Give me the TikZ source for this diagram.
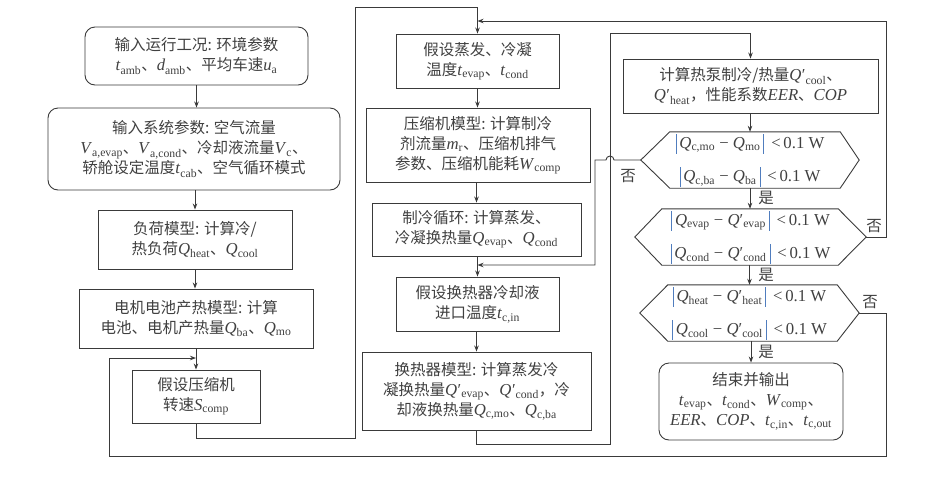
\documentclass[tikz,border=0pt]{standalone}
\usepackage{fontspec}
\setmainfont{Noto Sans CJK SC}
\newfontfamily\tm[Scale=1.08]{Liberation Serif}
\usetikzlibrary{arrows.meta,calc}
\definecolor{lncol}{HTML}{3A3A3A}
\definecolor{txcol}{HTML}{404040}
\definecolor{barc}{RGB}{80,125,190}
\newcommand\vq[2]{{\tm\textit{#1}\textsubscript{#2}}}
\newcommand\vp[2]{{\tm\textit{#1}\kern0.5pt′\textsubscript{#2}}}
\newcommand\ab[1]{\textcolor{barc}{\rule[-5pt]{0.8pt}{20pt}}\kern3pt{\tm#1}\kern3pt\textcolor{barc}{\rule[-5pt]{0.8pt}{20pt}}}
\newcommand\ltw{{\tm\ \,<\,0.1 W}}
\newcommand\mi{\ {\tm −}\ }
\tikzset{
  box/.style={draw=lncol, line width=0.9pt, text=txcol, align=center, inner sep=0pt, font=\fontsize{15.5}{20}\selectfont},
  rbox/.style={box, rounded corners=10pt},
  hexn/.style={draw=none, text=txcol, align=center, inner sep=0pt, font=\fontsize{15.5}{20}\selectfont},
  hexline/.style={draw=lncol, line width=0.9pt},
  conn/.style={draw=lncol, line width=0.9pt},
  arr/.style={conn, -{Stealth[length=6pt,width=4.5pt]}},
  lab/.style={text=txcol, inner sep=0pt, font=\fontsize{15.5}{18}\selectfont}
}
\begin{document}
\begin{tikzpicture}[x=1pt,y=-1pt]
\useasboundingbox (0,0) rectangle (928,480);
% left column
\node[rbox, minimum width=223pt, minimum height=58pt] (b1) at (196.5,56)
  {输入运行工况: 环境参数\\ \vq{t}{amb}、\vq{d}{amb}、平均车速\vq{u}{a}};
\node[rbox, minimum width=292pt, minimum height=82pt] (b2) at (194,149)
  {输入系统参数: 空气流量\\ \vq{V}{a,evap}、\vq{V}{a,cond}、冷却液流量\vq{V}{c}、\\ 轿舱设定温度\vq{t}{cab}、空气循环模式};
\node[box, minimum width=194pt, minimum height=59pt] (b3) at (195,239.5)
  {负荷模型: 计算冷/\\ 热负荷\vq{Q}{heat}、\vq{Q}{cool}};
\node[box, minimum width=234pt, minimum height=59pt] (b4) at (196,318.5)
  {电机电池产热模型: 计算\\ 电池、电机产热量\vq{Q}{ba}、\vq{Q}{mo}};
\node[box, minimum width=128pt, minimum height=53pt] (b5) at (196,396.5)
  {假设压缩机\\ 转速\vq{S}{comp}};
% middle column
\node[box, minimum width=163pt, minimum height=54pt] (b6) at (477.5,61)
  {假设蒸发、冷凝\\ 温度\vq{t}{evap}、\vq{t}{cond}};
\node[box, minimum width=224pt, minimum height=74pt] (b7) at (478,145)
  {压缩机模型: 计算制冷\\ 剂流量\vq{m}{r}、压缩机排气\\ 参数、压缩机能耗\vq{W}{comp}};
\node[box, minimum width=209pt, minimum height=53pt] (b8) at (476.5,229.5)
  {制冷循环: 计算蒸发、\\ 冷凝换热量\vq{Q}{evap}、\vq{Q}{cond}};
\node[box, minimum width=163pt, minimum height=54pt] (b9) at (477.5,304)
  {假设换热器冷却液\\ 进口温度\vq{t}{c,in}};
\node[box, minimum width=229pt, minimum height=78pt] (b10) at (476.5,391)
  {换热器模型: 计算蒸发冷\\ 凝换热量\vp{Q}{evap}、\vp{Q}{cond}，冷\\ 却液换热量\vq{Q}{c,mo}、\vq{Q}{c,ba}};
% right column
\node[box, minimum width=255pt, minimum height=54pt] (b11) at (750.5,86)
  {计算热泵制冷/热量\vp{Q}{cool}、\\ \vp{Q}{heat}，性能系数{\tm\textit{EER}}、{\tm\textit{COP}}};
\node[hexn, minimum width=218pt, minimum height=56pt] (d1) at (750,160)
  {\ab{\textit{Q}\textsubscript{c,mo}\mi\textit{Q}\textsubscript{mo}}\ltw\\[13pt]
   \ab{\textit{Q}\textsubscript{c,ba}\mi\textit{Q}\textsubscript{ba}}\ltw};
\node[hexn, minimum width=231pt, minimum height=56pt] (d2) at (750.5,237)
  {\ab{\textit{Q}\textsubscript{evap}\mi\textit{Q}′\textsubscript{evap}}\ltw\\[13pt]
   \ab{\textit{Q}\textsubscript{cond}\mi\textit{Q}′\textsubscript{cond}}\ltw};
\node[hexn, minimum width=219pt, minimum height=56pt] (d3) at (749.5,313)
  {\ab{\textit{Q}\textsubscript{heat}\mi\textit{Q}′\textsubscript{heat}}\ltw\\[13pt]
   \ab{\textit{Q}\textsubscript{cool}\mi\textit{Q}′\textsubscript{cool}}\ltw};
\foreach \d/\l/\r in {d1/29/19, d2/27/28, d3/28/22}{
  \draw[hexline] (\d.west) -- ([xshift=\l pt]\d.north west) -- ([xshift=-\r pt]\d.north east)
    -- (\d.east) -- ([xshift=-\r pt]\d.south east) -- ([xshift=\l pt]\d.south west) -- cycle;
}
\node[rbox, minimum width=184pt, minimum height=77pt] (b12) at (751,401.5)
  {结束并输出\\ \vq{t}{evap}、\vq{t}{cond}、\vq{W}{comp}、\\ {\tm\textit{EER}}、{\tm\textit{COP}}、\vq{t}{c,in}、\vq{t}{c,out}};
% labels
\node[lab] (n1) at (628,176) {否};
\node[lab] (n2) at (874,226) {否};
\node[lab] (n3) at (870,302) {否};
\node[lab] (y1) at (766,198) {是};
\node[lab] (y2) at (766,275) {是};
\node[lab] (y3) at (766,352) {是};
% coordinates
\coordinate (c1) at (355,438);
\coordinate (c2) at (355,7);
\coordinate (c3) at (610,444);
\coordinate (c4) at (610,33);
\coordinate (c5) at (595,160);
\coordinate (c6) at (595,265);
\coordinate (c7) at (886,21);
\coordinate (c8) at (886,456);
\coordinate (c9) at (109,456);
\coordinate (c10) at (109,358);
\coordinate (h1) at (614,160);
% straight arrows
\draw[arr] (b1.south) -- (b1.south |- b2.north);
\draw[arr] (b2.south -| b3.north) -- (b3.north);
\draw[arr] (b3.south) -- (b3.south |- b4.north);
\draw[arr] (b4.south -| b5.north) -- (b5.north);
\draw[arr] (b6.south) -- (b6.south |- b7.north);
\draw[arr] (b7.south -| b8.north) -- (b8.north);
\draw[arr] (b8.south -| b9.north) -- (b9.north);
\draw[arr] (b9.south -| b10.north) -- (b10.north);
\draw[arr] (b11.south -| d1.north) -- (d1.north);
\draw[arr] (d1.south) -- (d1.south |- d2.north);
\draw[arr] (d2.south -| d3.north) -- (d3.north);
\draw[arr] (d3.south -| b12.north) -- (b12.north);
% loops
\draw[arr] (b5.south) |- (c1) -- (c2) -| (b6.north);
\draw[arr] (b10.south) |- (c3) -- (c4) -| (b11.north);
\draw[arr] (d1.west) -- (h1) arc[start angle=0, end angle=180, radius=4pt] -- (c5) -- (c6) -- (c6 -| b9.north);
\draw[arr] (d2.east) -| (c7) -- (c7 -| b6.north);
\draw[arr] (d3.east) -| (c8) -- (c9) -- (c10) -- (c10 -| b5.north);
\end{tikzpicture}
\end{document}
